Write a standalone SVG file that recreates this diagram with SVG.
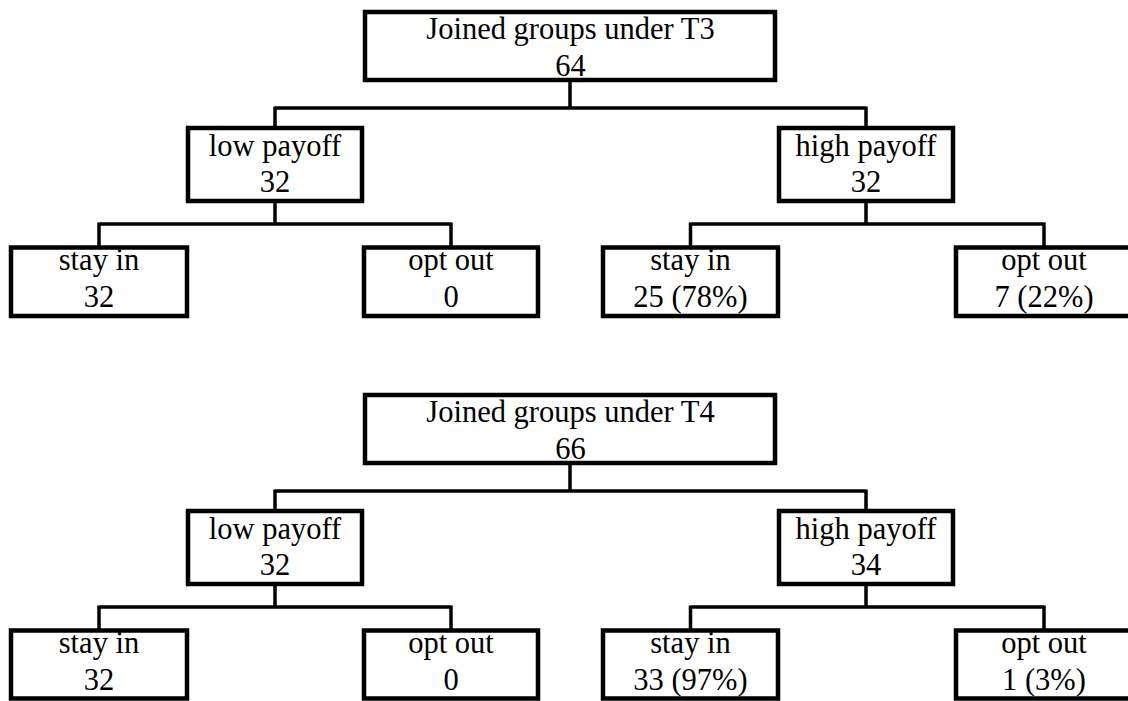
<svg xmlns="http://www.w3.org/2000/svg" width="1128" height="701" viewBox="0 0 1128 701">
<style>
.box{fill:#fff;stroke:#000;stroke-width:4.5}
.t{font-family:"Liberation Serif","Times New Roman",serif;font-size:30.5px;fill:#000;text-anchor:middle}
.c{fill:none;stroke:#000;stroke-width:3.5}
</style>
<rect width="1128" height="701" fill="#fff"/>
<g id="connectors">
<path class="c" d="M570,80V108M275,108H866M275,106.5V128M866,106.5V128"/>
<path class="c" d="M275,201V224M99,224H451M99,222.5V247.5M451,222.5V247.5"/>
<path class="c" d="M866,201V224M690.5,224H1044M690.5,222.5V247.5M1044,222.5V247.5"/>
<path class="c" d="M570,463V491M275,491H866M275,489.5V511M866,489.5V511"/>
<path class="c" d="M275,584V607M99,607H451M99,605.5V630.5M451,605.5V630.5"/>
<path class="c" d="M866,584V607M690.5,607H1044M690.5,605.5V630.5M1044,605.5V630.5"/>
</g>
<g id="t3-root"><rect class="box" x="365" y="12" width="410" height="68"/><text class="t" x="570.5" y="39">Joined groups under T3</text><text class="t" x="570.5" y="76">64</text></g>
<g id="t3-low"><rect class="box" x="188" y="128" width="174" height="73"/><text class="t" x="275" y="156">low payoff</text><text class="t" x="275" y="192">32</text></g>
<g id="t3-high"><rect class="box" x="779" y="128" width="174" height="73"/><text class="t" x="866" y="156">high payoff</text><text class="t" x="866" y="192">32</text></g>
<g id="t3-low-stay"><rect class="box" x="11" y="247.5" width="176" height="68.5"/><text class="t" x="99" y="270">stay in</text><text class="t" x="99" y="307">32</text></g>
<g id="t3-low-opt"><rect class="box" x="364" y="247.5" width="174" height="68.5"/><text class="t" x="451" y="270">opt out</text><text class="t" x="451" y="307">0</text></g>
<g id="t3-high-stay"><rect class="box" x="603" y="247.5" width="175" height="68.5"/><text class="t" x="690.5" y="270">stay in</text><text class="t" x="690.5" y="307">25 (78%)</text></g>
<g id="t3-high-opt"><rect class="box" x="956" y="247.5" width="176" height="68.5"/><text class="t" x="1044" y="270">opt out</text><text class="t" x="1044" y="307">7 (22%)</text></g>
<g id="t4-root"><rect class="box" x="365" y="395" width="410" height="68"/><text class="t" x="570.5" y="422">Joined groups under T4</text><text class="t" x="570.5" y="459">66</text></g>
<g id="t4-low"><rect class="box" x="188" y="511" width="174" height="73"/><text class="t" x="275" y="539">low payoff</text><text class="t" x="275" y="575">32</text></g>
<g id="t4-high"><rect class="box" x="779" y="511" width="174" height="73"/><text class="t" x="866" y="539">high payoff</text><text class="t" x="866" y="575">34</text></g>
<g id="t4-low-stay"><rect class="box" x="11" y="630.5" width="176" height="68"/><text class="t" x="99" y="653">stay in</text><text class="t" x="99" y="690">32</text></g>
<g id="t4-low-opt"><rect class="box" x="364" y="630.5" width="174" height="68"/><text class="t" x="451" y="653">opt out</text><text class="t" x="451" y="690">0</text></g>
<g id="t4-high-stay"><rect class="box" x="603" y="630.5" width="175" height="68"/><text class="t" x="690.5" y="653">stay in</text><text class="t" x="690.5" y="690">33 (97%)</text></g>
<g id="t4-high-opt"><rect class="box" x="956" y="630.5" width="176" height="68"/><text class="t" x="1044" y="653">opt out</text><text class="t" x="1044" y="690">1 (3%)</text></g>
</svg>
